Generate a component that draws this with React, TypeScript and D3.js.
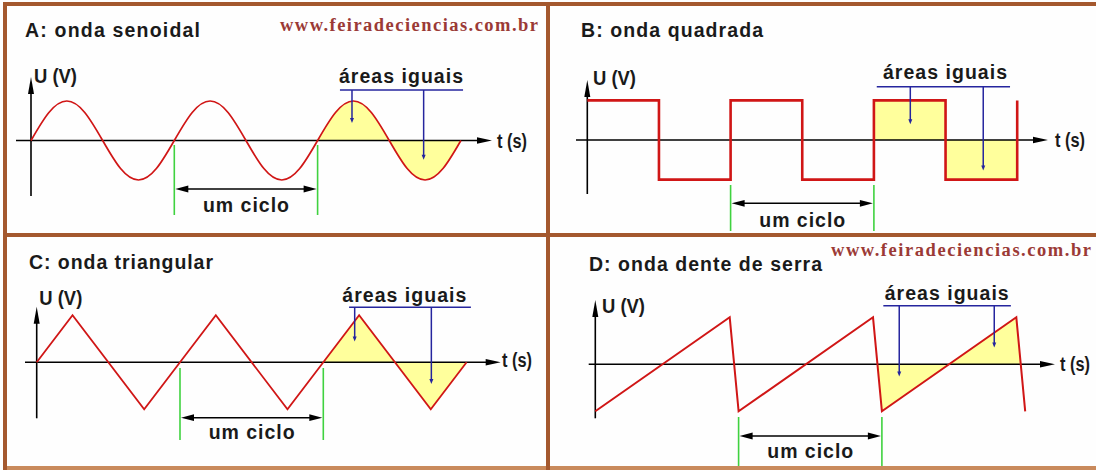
import React from 'react'
import * as d3 from 'd3'

type Pt = [number, number]

// one cycle of every wave: phase (fraction of a cycle) and U (fraction of the peak)
const cycles = [0, 1, 2]
const sinePhase = [0, 0.125, 0.25, 0.375, 0.5, 0.625, 0.75, 0.875]
const sineU = [0, 0.71, 1, 0.71, 0, -0.71, -1, -0.71]
const squarePhase = [0, 0.5]
const squareU = [1, -1]
const trianglePhase = [0, 0.25, 0.75]
const triangleU = [0, 1, -1]
const sawPhase = [0, 0.938]
const sawU = [-1, 1]

// shaded span ("áreas iguais") and the "um ciclo" span, in cycles
const shadeSine = [2, 3]
const shadeSquare = [2, 3]
const shadeTriangle = [2, 3]
const shadeSaw = [1.969, 2.969]
const cycleSpan = [1, 2]

// blue bracket of "áreas iguais" (t from, t to) and where its two pointers end [t, U]
const bracketSine = [2.156, 3.015]
const bracketSquare = [2.02, 2.95]
const bracketTriangle = [2.18, 3.03]
const bracketSaw = [2.01, 2.9]
const pointersSine: Pt[] = [[2.24, 0.44], [2.74, -0.49]]
const pointersSquare: Pt[] = [[2.254, 0.4], [2.763, -0.77]]
const pointersTriangle: Pt[] = [[2.219, 0.44], [2.754, -0.46]]
const pointersSaw: Pt[] = [[2.121, -0.26], [2.784, 0.36]]

const titles = ['A: onda senoidal', 'B: onda quadrada', 'C: onda triangular', 'D: onda dente de serra']
const siteLabel = 'www.feiradeciencias.com.br'
const yLabel = 'U (V)'
const xLabel = 't (s)'
const areaLabel = 'áreas iguais'
const cycleLabel = 'um ciclo'

const W = 1096
const H = 470
const PERIOD = 143.3
const RED = '#d01616'
const BLUE = '#25259e'
const GREEN = '#3fd23f'
const YELLOW = '#ffff9c'
const BROWN = '#a4582e'
const INK = '#1a1a1a'
const SANS = '"Liberation Sans", Arial, Helvetica, sans-serif'
const SERIF = '"Liberation Serif", "Times New Roman", serif'

const build = (phase: number[], u: number[], tail: Pt[]): Pt[] =>
  cycles.flatMap(c => phase.map((p, i) => [c + p, u[i]] as Pt)).concat(tail)

const sineData = build(sinePhase, sineU, [[3, 0]])
const squareData = build(squarePhase, squareU, [[3, -1], [3, 1]])
const triangleData = build(trianglePhase, triangleU, [[3, 0]])
const sawData = build(sawPhase, sawU, [[3, -1]])

// keep the part of a polyline between t0 and t1, cutting the ends linearly
function clip(pts: Pt[], t0: number, t1: number): Pt[] {
  const at = (t: number): Pt => {
    for (let i = 1; i < pts.length; i++) {
      const [a, b] = [pts[i - 1], pts[i]]
      if (t >= a[0] && t <= b[0] && b[0] > a[0]) return [t, a[1] + ((t - a[0]) / (b[0] - a[0])) * (b[1] - a[1])]
    }
    return [t, 0]
  }
  const inner = pts.filter(p => p[0] > t0 && p[0] < t1)
  const first = pts.find(p => p[0] === t0) || at(t0)
  const last = pts.filter(p => p[0] === t1)
  return [first, ...inner, ...(last.length ? last : [at(t1)])]
}

const arrow = (x: number, y: number, dir: string, len: number, half: number) => {
  const p = d3.path()
  if (dir === 'up') { p.moveTo(x, y); p.lineTo(x - half, y + len); p.lineTo(x + half, y + len) }
  if (dir === 'down') { p.moveTo(x, y); p.lineTo(x - half, y - len); p.lineTo(x + half, y - len) }
  if (dir === 'right') { p.moveTo(x, y); p.lineTo(x - len, y - half); p.lineTo(x - len, y + half) }
  if (dir === 'left') { p.moveTo(x, y); p.lineTo(x + len, y - half); p.lineTo(x + len, y + half) }
  p.closePath()
  return p.toString()
}

const panels = [
  {
    data: sineData, curve: d3.curveNatural, shade: shadeSine, bracket: bracketSine, pointers: pointersSine,
    width: 1.7, x0: 31, axisY: 140.5, amp: 39.5, yAxis: [77, 196], xAxis: [16, 492],
    title: [25, 37, 175], yLab: [34, 83], xLab: [497, 148], areaText: [339, 82.7], bracketY: 90,
    green: [145, 215], arrowY: 189, cycleY: 212,
  },
  {
    data: squareData, curve: d3.curveStepAfter, shade: shadeSquare, bracket: bracketSquare, pointers: pointersSquare,
    width: 2.6, x0: 587.3, axisY: 140, amp: 39.6, yAxis: [80, 194], xAxis: [576, 1048],
    title: [581, 37, 182], yLab: [593, 85], xLab: [1055, 147], areaText: [883, 79.3], bracketY: 86.7,
    green: [185, 231], arrowY: 203.3, cycleY: 227,
  },
  {
    data: triangleData, curve: d3.curveLinear, shade: shadeTriangle, bracket: bracketTriangle, pointers: pointersTriangle,
    width: 1.8, x0: 36.7, axisY: 362.3, amp: 47, yAxis: [306.7, 418.3], xAxis: [25, 500.7],
    title: [29, 269.3, 184], yLab: [39.3, 305], xLab: [502, 366.7], areaText: [342.3, 302.3], bracketY: 307.3,
    green: [368, 440], arrowY: 417.7, cycleY: 439,
  },
  {
    data: sawData, curve: d3.curveLinear, shade: shadeSaw, bracket: bracketSaw, pointers: pointersSaw,
    width: 2, x0: 595.3, axisY: 364.3, amp: 47, yAxis: [300, 418.3], xAxis: [588.7, 1055],
    title: [589, 271, 233], yLab: [602, 313.3], xLab: [1060, 370.5], areaText: [884.7, 300], bracketY: 305.7,
    green: [417, 467], arrowY: 436, cycleY: 458,
  },
]

const sites = [[280, 31, 258], [831, 256, 260]]

function Panel({ p, title }: { p: any; title: string }) {
  const x = d3.scaleLinear().domain([0, 3]).range([p.x0, p.x0 + 3 * PERIOD])
  const y = d3.scaleLinear().domain([-1, 1]).range([p.axisY + p.amp, p.axisY - p.amp])
  const line = d3.line<Pt>().x(d => x(d[0])).y(d => y(d[1])).curve(p.curve)
  const area = d3.area<Pt>().x(d => x(d[0])).y0(y(0)).y1(d => y(d[1])).curve(p.curve)
  const shaded = clip(p.data, p.shade[0], p.shade[1])
  const [c0, c1] = cycleSpan.map(x)
  const bx = p.bracket.map(x)
  const label = { fontFamily: SANS, fontWeight: 'bold', fontSize: 19.5, fill: INK }

  return (
    <g>
      <text x={p.title[0]} y={p.title[1]} textLength={p.title[2]} lengthAdjust="spacing" {...label}>{title}</text>

      <path d={area(shaded) || ''} fill={YELLOW} stroke="none" />

      {/* axes */}
      <line x1={p.x0} x2={p.x0} y1={p.yAxis[0] + 8} y2={p.yAxis[1]} stroke="#000" strokeWidth={1.6} />
      <path d={arrow(p.x0, p.yAxis[0], 'up', 17, 3)} fill="#000" />
      <line x1={p.xAxis[0]} x2={p.xAxis[1] - 8} y1={p.axisY} y2={p.axisY} stroke="#000" strokeWidth={1.6} />
      <path d={arrow(p.xAxis[1], p.axisY, 'right', 15, 3.2)} fill="#000" />
      <text x={p.yLab[0]} y={p.yLab[1]} textLength={43} lengthAdjust="spacingAndGlyphs" {...label} fontSize={20}>{yLabel}</text>
      <text x={p.xLab[0]} y={p.xLab[1]} textLength={30} lengthAdjust="spacingAndGlyphs" {...label} fontSize={20}>{xLabel}</text>

      <path d={line(p.data) || ''} fill="none" stroke={RED} strokeWidth={p.width} strokeLinejoin="miter" />

      {/* um ciclo */}
      {[c0, c1].map((gx, i) => (
        <line key={i} x1={gx} x2={gx} y1={p.green[0]} y2={p.green[1]} stroke={GREEN} strokeWidth={1.6} />
      ))}
      <line x1={c0 + 8} x2={c1 - 8} y1={p.arrowY} y2={p.arrowY} stroke="#000" strokeWidth={1.6} />
      <path d={arrow(c0 + 1, p.arrowY, 'left', 13, 3.4)} fill="#000" />
      <path d={arrow(c1 - 1, p.arrowY, 'right', 13, 3.4)} fill="#000" />
      <text x={(c0 + c1) / 2} y={p.cycleY} textAnchor="middle" textLength={86} lengthAdjust="spacing" {...label}>{cycleLabel}</text>

      {/* áreas iguais */}
      <text x={p.areaText[0]} y={p.areaText[1]} textLength={124} lengthAdjust="spacing" {...label}>{areaLabel}</text>
      <line x1={bx[0]} x2={bx[1]} y1={p.bracketY} y2={p.bracketY} stroke={BLUE} strokeWidth={1.6} />
      {p.pointers.map((d: Pt, i: number) => (
        <g key={i}>
          <line x1={x(d[0])} x2={x(d[0])} y1={p.bracketY} y2={y(d[1]) - 3} stroke={BLUE} strokeWidth={1.5} />
          <path d={arrow(x(d[0]), y(d[1]), 'down', 5, 2)} fill={BLUE} />
        </g>
      ))}
    </g>
  )
}

export default function App() {
  return (
    <svg width={W} height={H} viewBox={`0 0 ${W} ${H}`}
      style={{ position: 'absolute', left: 0, top: 0, display: 'block', background: '#fff' }}>
      <rect x={0} y={0} width={W} height={H} fill="#fefefe" />
      {panels.map((p, i) => <Panel key={i} p={p} title={titles[i]} />)}
      {sites.map((s, i) => (
        <text key={i} x={s[0]} y={s[1]} textLength={s[2]} lengthAdjust="spacing"
          fontFamily={SERIF} fontWeight="bold" fontSize={18.5} fill="#9b3a36">{siteLabel}</text>
      ))}
      {/* frame */}
      <rect x={3} y={2} width={W - 3} height={4} fill={BROWN} />
      <rect x={3} y={233} width={W - 3} height={4} fill={BROWN} />
      <rect x={3} y={466} width={W - 3} height={4} fill="#c98a5c" />
      <rect x={3} y={2} width={4} height={H - 2} fill={BROWN} />
      <rect x={546} y={2} width={4} height={H - 2} fill={BROWN} />
    </svg>
  )
}
